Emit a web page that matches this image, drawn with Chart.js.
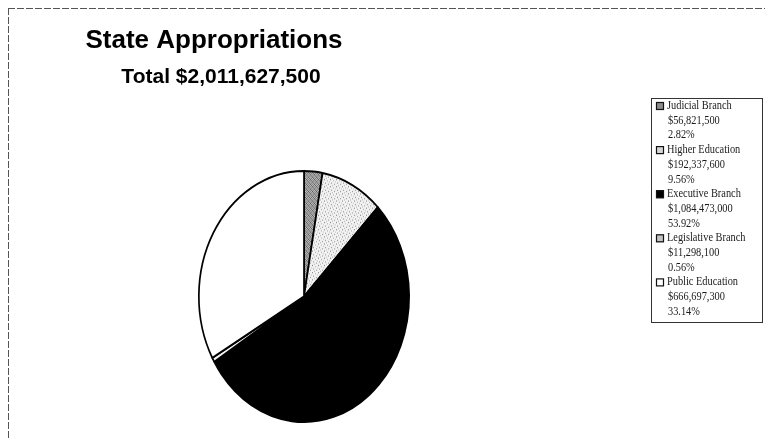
<!DOCTYPE html>
<html>
<head>
<meta charset="utf-8">
<script src="https://cdn.jsdelivr.net/npm/chart.js@4"></script>
<style>
  html, body { margin: 0; padding: 0; background: #fff; }
  canvas { display: block; }
</style>
</head>
<body>
<canvas id="pie" width="765" height="439"></canvas>
<script>
// data
const chartTitle = 'State Appropriations';
const chartSubtitle = 'Total $2,011,627,500';
const branches = ['Judicial Branch', 'Higher Education', 'Executive Branch', 'Legislative Branch', 'Public Education'];
const amounts = [56821500, 192337600, 1084473000, 11298100, 666697300];
const shares = ['2.82%', '9.56%', '53.92%', '0.56%', '33.14%'];

// small stipple tiles so the slices look like the printed original
function makePattern(cells, size, base) {
    const c = document.createElement('canvas');
    c.width = size; c.height = size;
    const g = c.getContext('2d');
    g.fillStyle = base;
    g.fillRect(0, 0, size, size);
    cells.forEach(([x, y, col]) => { g.fillStyle = col; g.fillRect(x, y, 1, 1); });
    return g.createPattern(c, 'repeat');
}
const judicialFill = makePattern([
    [0, 0, '#555'], [2, 0, '#888'], [1, 1, '#666'], [3, 1, '#777'],
    [0, 2, '#888'], [2, 2, '#555'], [1, 3, '#777'], [3, 3, '#666']
], 4, '#bdbdbd');
const higherFill = makePattern([
    [0, 0, '#8a8a8a'], [3, 1, '#b0b0b0'], [1, 3, '#9a9a9a'], [4, 4, '#a0a0a0'],
    [5, 2, '#c4c4c4'], [2, 5, '#b8b8b8']
], 6, '#f2f2f2');
const fills = [judicialFill, higherFill, '#000000', '#f6f6f6', '#ffffff'];
const swatches = ['#8c8c8c', '#d6d6d6', '#000000', '#c4c4c4', '#ffffff'];

const Y_STRETCH = 126.5 / 106; // pie is taller than wide

const pageDecor = {
    id: 'pageDecor',
    beforeDatasetsDraw(chart) {
        const { ctx } = chart;
        const arc = chart.getDatasetMeta(0).data[0];
        ctx.save();
        ctx.translate(arc.x, arc.y);
        ctx.scale(1, Y_STRETCH);
        ctx.translate(-arc.x, -arc.y);
    },
    afterDatasetsDraw(chart) {
        chart.ctx.restore();
    },
    afterDraw(chart) {
        const { ctx } = chart;

        // scanned page edge
        ctx.save();
        ctx.strokeStyle = '#555';
        ctx.lineWidth = 1;
        ctx.setLineDash([7, 2]);
        ctx.beginPath();
        ctx.moveTo(8, 8.5); ctx.lineTo(765, 8.5);
        ctx.moveTo(8.5, 8); ctx.lineTo(8.5, 439);
        ctx.stroke();
        ctx.restore();

        // titles
        ctx.save();
        ctx.fillStyle = '#000';
        ctx.textAlign = 'center';
        ctx.textBaseline = 'alphabetic';
        ctx.font = 'bold 26px "Liberation Sans", Arial, sans-serif';
        ctx.fillText(chartTitle, 214, 48);
        ctx.font = 'bold 21px "Liberation Sans", Arial, sans-serif';
        ctx.fillText(chartSubtitle, 221, 83);
        ctx.restore();

        // legend box
        ctx.save();
        ctx.strokeStyle = '#333';
        ctx.lineWidth = 1;
        ctx.strokeRect(651.5, 98.5, 111, 224);
        ctx.font = '11.5px "Liberation Serif", "Times New Roman", serif';
        ctx.textBaseline = 'middle';
        const rowH = 14.7;
        branches.forEach((name, i) => {
            const y0 = 106 + i * 3 * rowH;
            ctx.fillStyle = swatches[i];
            ctx.fillRect(656, y0 - 4, 8, 8);
            ctx.strokeStyle = '#111';
            ctx.lineWidth = 1.2;
            ctx.strokeRect(656.5, y0 - 3.5, 7, 7);
            ctx.fillStyle = '#1a1a1a';
            const lines = [name, '$' + amounts[i].toLocaleString('en-US'), shares[i]];
            lines.forEach((t, k) => {
                ctx.save();
                ctx.translate(k === 0 ? 667 : 668, y0 + k * rowH);
                ctx.scale(0.9, 1);
                ctx.fillText(t, 0, 0);
                ctx.restore();
            });
        });
        ctx.restore();
    }
};

new Chart(document.getElementById('pie').getContext('2d'), {
    type: 'pie',
    data: {
        labels: branches,
        datasets: [{
            data: amounts,
            backgroundColor: fills,
            borderColor: '#000',
            borderWidth: 1.7
        }]
    },
    options: {
        responsive: false,
        animation: false,
        layout: { padding: { left: 198, right: 355, top: 190.5, bottom: 36.5 } },
        plugins: {
            legend: { display: false },
            tooltip: { enabled: false },
            title: { display: false }
        }
    },
    plugins: [pageDecor]
});
</script>
</body>
</html>
